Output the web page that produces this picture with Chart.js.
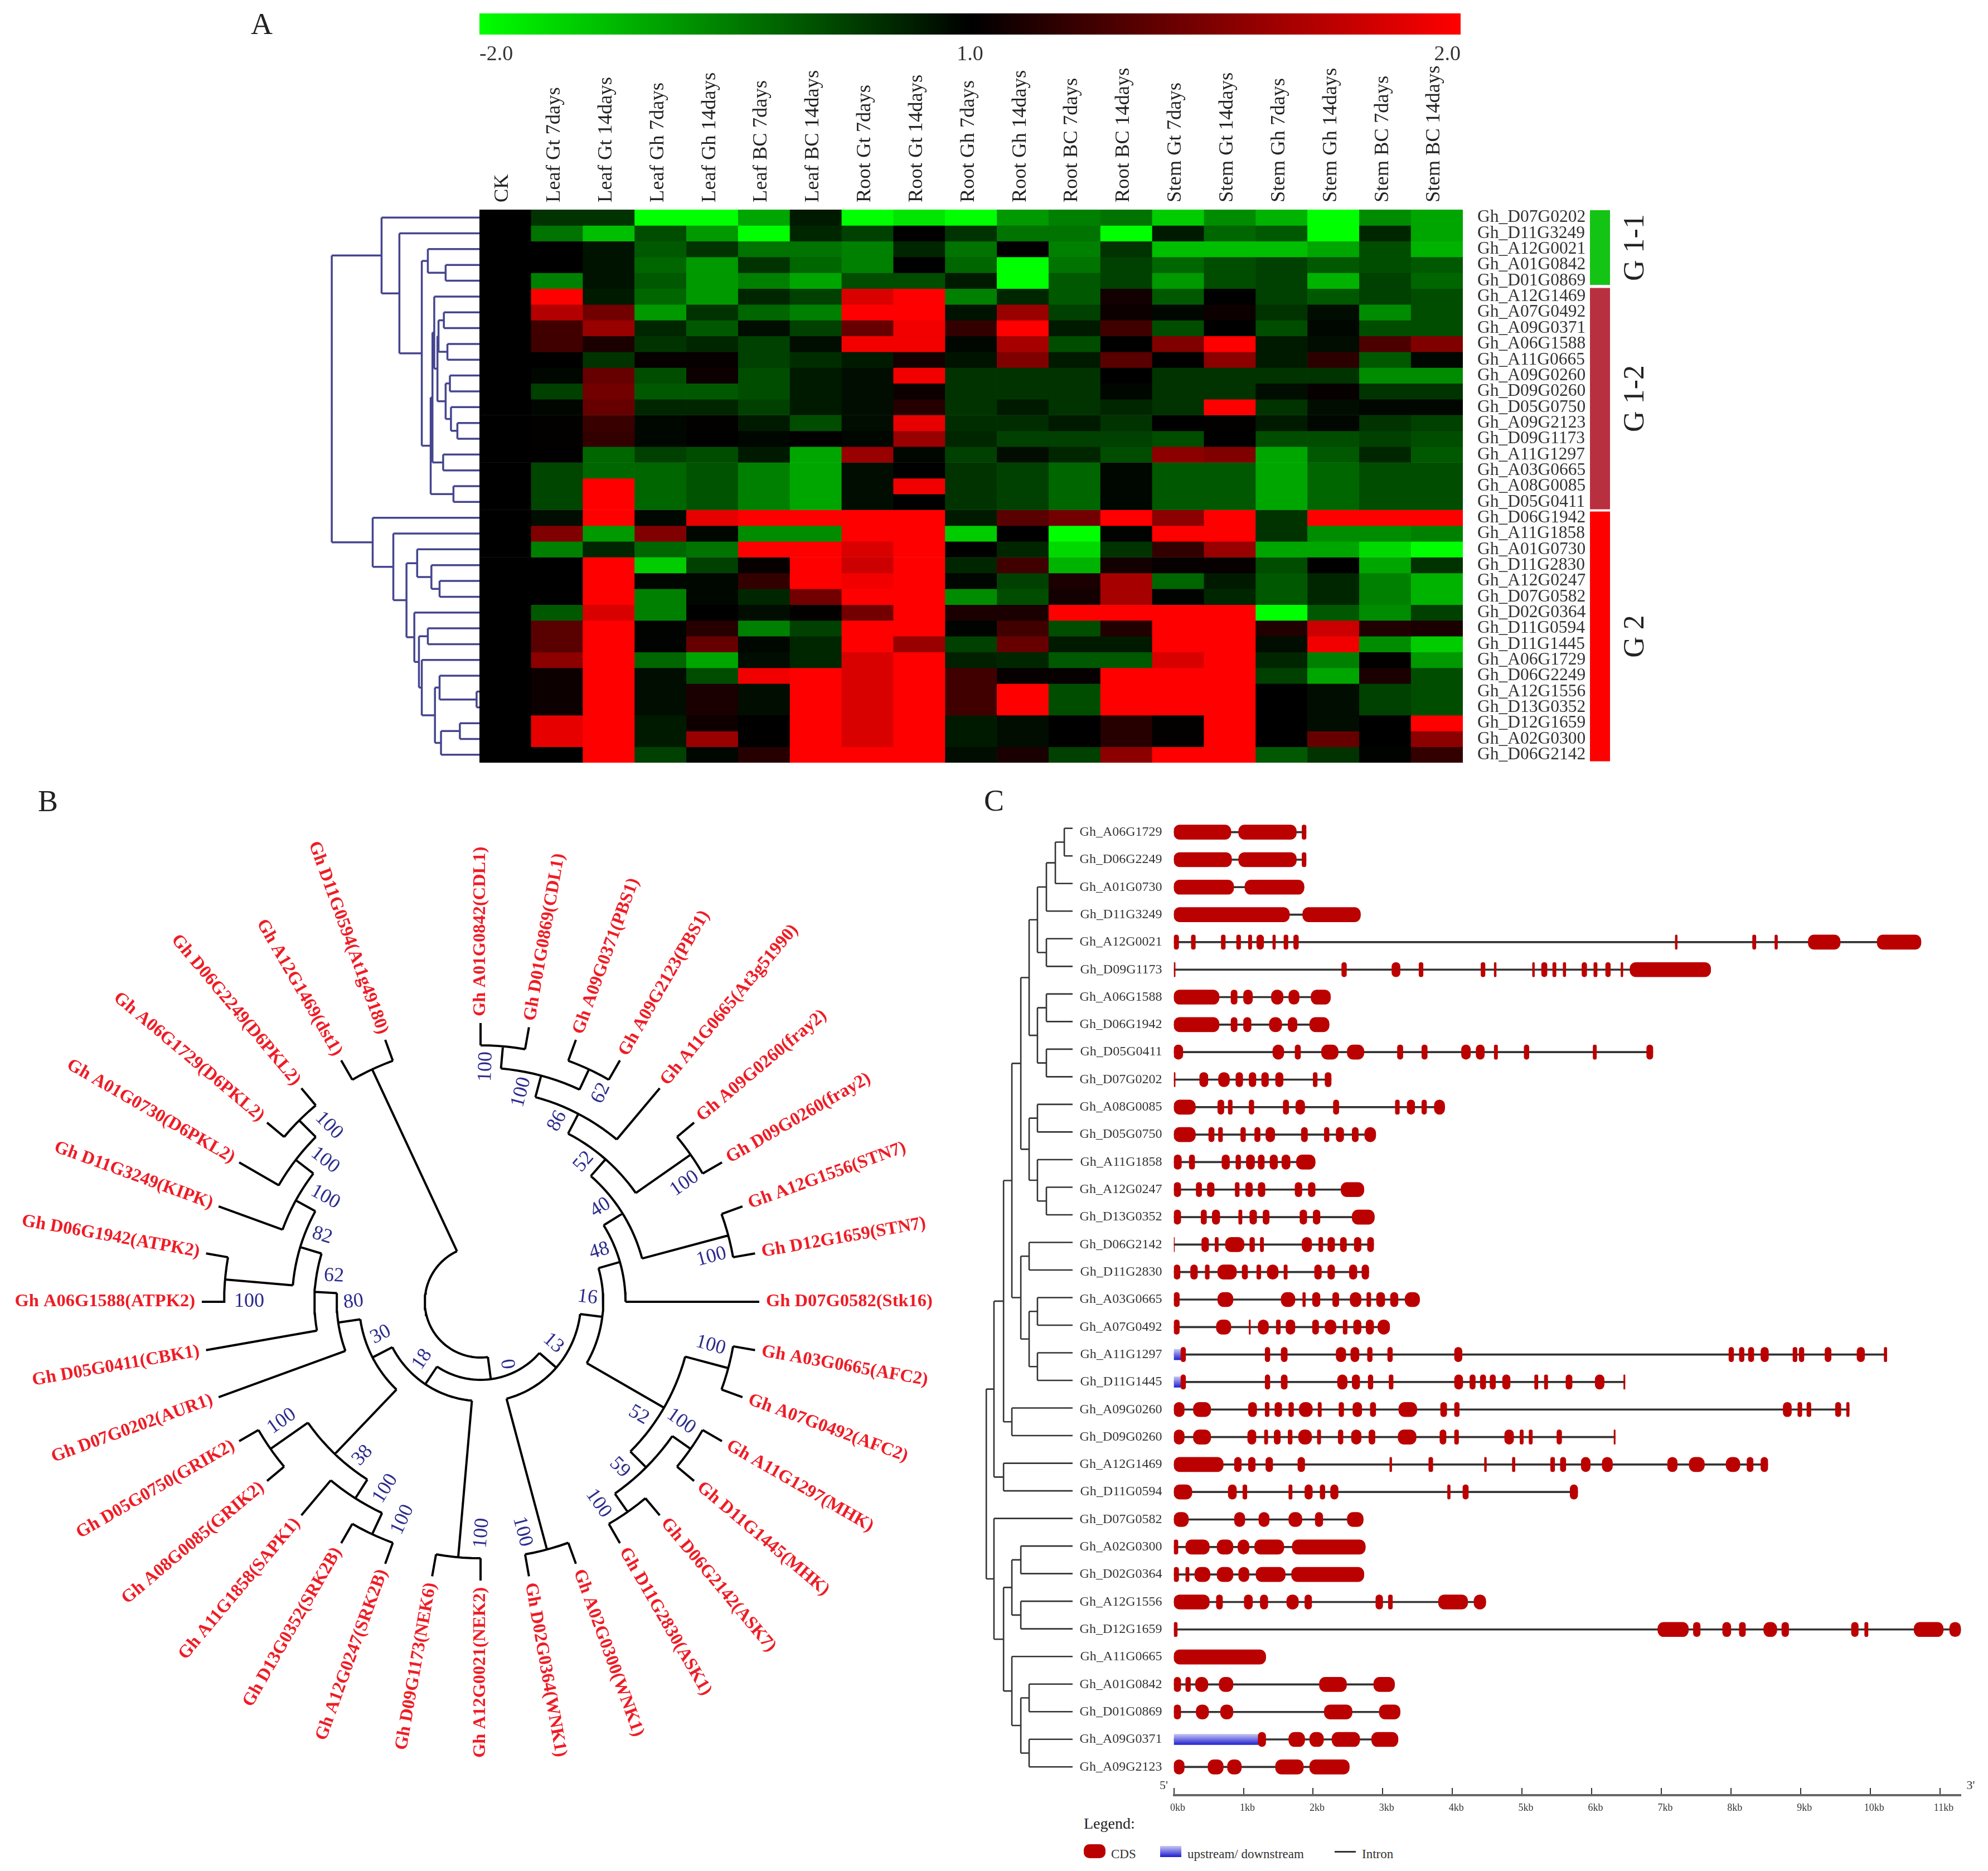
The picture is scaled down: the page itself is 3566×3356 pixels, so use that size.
<!DOCTYPE html>
<html>
<head>
<meta charset="utf-8">
<title>Gene family heatmap, tree and structure</title>
<script src="https://cdn.jsdelivr.net/npm/chart.js@4"></script>
<style>
  html, body { margin: 0; background: #fff; }
  #page { position: relative; width: 3566px; height: 3356px; overflow: hidden; font-family: "Liberation Serif", serif; color: #222; }
  #page canvas { position: absolute; }
  .txt { position: absolute; line-height: 1; white-space: nowrap; }
  .letter { font-size: 54px; }
  .leg { font-size: 23px; color: #333; }
  .swatch { position: absolute; }
</style>
</head>
<body>
<div id="page">
  <div class="txt letter" style="left:450px;top:16px">A</div>
  <div class="txt letter" style="left:68px;top:1410px">B</div>
  <div class="txt letter" style="left:1765px;top:1409px">C</div>

  <div class="txt" style="left:1944px;top:3257px;font-size:28px">Legend:</div>
  <div class="swatch" style="left:1944px;top:3308px;width:39px;height:25px;background:#bb0000;border-radius:10px"></div>
  <div class="txt leg" style="left:1993px;top:3314px">CDS</div>
  <div class="swatch" style="left:2081px;top:3311px;width:38px;height:20px;background:linear-gradient(#c8c8f4,#1c1cd0)"></div>
  <div class="txt leg" style="left:2130px;top:3314px">upstream/ downstream</div>
  <div class="swatch" style="left:2394px;top:3320px;width:38px;height:3px;background:#333"></div>
  <div class="txt leg" style="left:2443px;top:3314px">Intron</div>
</div>

<script>
// ---- Panel A data ----
const sampleLabels = ['CK','Leaf Gt 7days','Leaf Gt 14days','Leaf Gh 7days','Leaf Gh 14days','Leaf BC 7days','Leaf BC 14days',
  'Root Gt 7days','Root Gt 14days','Root Gh 7days','Root Gh 14days','Root BC 7days','Root BC 14days',
  'Stem Gt 7days','Stem Gt 14days','Stem Gh 7days','Stem Gh 14days','Stem BC 7days','Stem BC 14days'];
const heatGenes = ['Gh_D07G0202','Gh_D11G3249','Gh_A12G0021','Gh_A01G0842','Gh_D01G0869','Gh_A12G1469','Gh_A07G0492','Gh_A09G0371',
  'Gh_A06G1588','Gh_A11G0665','Gh_A09G0260','Gh_D09G0260','Gh_D05G0750','Gh_A09G2123','Gh_D09G1173','Gh_A11G1297','Gh_A03G0665',
  'Gh_A08G0085','Gh_D05G0411','Gh_D06G1942','Gh_A11G1858','Gh_A01G0730','Gh_D11G2830','Gh_A12G0247','Gh_D07G0582','Gh_D02G0364',
  'Gh_D11G0594','Gh_D11G1445','Gh_A06G1729','Gh_D06G2249','Gh_A12G1556','Gh_D13G0352','Gh_D12G1659','Gh_A02G0300','Gh_D06G2142'];
const heatValues = [
  [0,-.4,-.4,-2,-2,-1.3,-.2,-2,-1.8,-2,-1.2,-1,-.9,-1.6,-1.1,-1.4,-2,-1.1,-1.3],
  [0,-.9,-1.5,-.6,-1.2,-2,-.3,-.5,0,-.4,-.9,-.9,-2,-.2,-.8,-.7,-2,-.3,-1.3],
  [0,0,-.15,-.7,-.4,-.9,-.9,-1,-.3,-.9,0,-1,-.4,-1.5,-1.5,-1.5,-1.3,-.6,-1.4],
  [0,0,-.15,-.8,-1.2,-.4,-.8,-1,0,-.8,-2,-.9,-.5,-.8,-.6,-.5,-.7,-.6,-.7],
  [0,-1,-.15,-.7,-1.2,-1,-1.3,-.6,-.6,-.2,-2,-.7,-.5,-1.2,-.6,-.5,-1.4,-.5,-.8],
  [0,2,-.2,-.8,-1.2,-.3,-.5,1.7,2,-1,-.3,-.7,.15,-.7,0,-.5,-.7,-.5,-.6],
  [0,1.4,.9,-1.2,-.4,-.8,-1,2,2,-.15,1.2,-.5,.1,-.05,.1,-.4,-.1,-1.1,-.6],
  [0,.5,1.2,-.3,-.7,-.1,-.5,.8,1.9,.4,2,-.2,.5,-.6,0,-.6,-.05,-.6,-.6],
  [0,.5,.2,-.4,-.3,-.5,-.1,1.9,1.9,-.05,1.3,-.6,0,1,2,-.2,-.1,.6,1],
  [0,0,-.4,.05,.05,-.5,-.35,-.2,.15,-.15,1,-.2,.7,0,1.1,-.2,.35,-.7,-.05],
  [0,-.05,.8,-.6,.1,-.6,-.2,-.1,1.9,-.4,-.4,-.4,0,-.4,-.4,-.4,-.4,-1.1,-1.1],
  [0,-.5,.9,-.7,-.7,-.6,-.2,-.1,.1,-.4,-.4,-.4,-.05,-.4,-.4,-.1,.05,-.4,-.4],
  [0,-.05,.8,-.3,-.3,-.5,-.2,-.1,.3,-.4,-.2,-.4,-.3,-.4,2,-.4,-.1,-.05,-.05],
  [0,.02,.45,-.05,.02,-.2,-.6,-.1,1.8,-.35,-.35,-.2,-.4,0,.02,-.2,-.05,-.4,-.5],
  [0,.02,.4,-.05,0,-.05,.02,-.05,1.2,-.3,-.5,-.5,-.5,-.6,0,-.6,-.6,-.5,-.6],
  [0,0,-.8,-.5,-.6,-.2,-1.3,1.2,-.05,-.5,-.1,-.3,-.6,1.1,1,-1.3,-.7,-.3,-.7],
  [0,-.55,-.8,-.8,-.65,-1,-1.3,-.1,0,-.4,-.5,-.8,-.05,-.7,-.7,-1.3,-.8,-.6,-.6],
  [0,-.55,2,-.8,-.65,-1,-1.3,-.1,1.9,-.4,-.5,-.8,-.05,-.7,-.7,-1.3,-.8,-.6,-.6],
  [0,-.55,2,-.8,-.65,-1,-1.3,-.1,0,-.4,-.5,-.8,-.05,-.7,-.7,-1.3,-.8,-.6,-.6],
  [0,-.1,2,-.05,1.8,2,2,2,2,-.2,.7,.9,2,1.1,2,-.4,2,2,2],
  [0,1,-1.2,1,-.05,-1.1,-1.1,2,2,-1.6,0,-2,-.02,2,2,-.4,-1.1,-1.1,-1],
  [0,-1,-.3,-.8,-.9,2,2,1.7,2,0,-.3,-1.7,-.4,.4,1.2,-1.3,-1.3,-1.7,-2],
  [0,0,2,-1.6,-.5,.05,2,1.6,2,-.3,.5,-1.4,.15,.05,.05,-.6,0,-1.3,-.4],
  [0,0,2,-.05,-.05,.4,2,1.9,2,-.05,-.5,.2,1.3,-.8,-.2,-.7,-.3,-1,-1.4],
  [0,0,2,-1,-.05,-.3,.9,2,2,-1.1,-.6,.15,1.3,-.02,-.3,-.7,-.3,-1,-1.4],
  [0,-.7,1.7,-1,0,-.1,.02,.9,2,.2,.2,2,2,2,2,-2,-.7,-1.1,-.5],
  [0,.7,2,-.02,.3,-1,-.5,2,2,-.03,.5,-.6,.25,2,2,.25,1.6,.25,.2],
  [0,.7,2,-.02,.8,-.05,-.3,2,1.2,-.5,.8,-.2,-.2,2,2,-.1,1.9,-1.1,-1.6],
  [0,1.1,2,-.8,-1.3,-.1,-.3,1.7,2,-.25,-.3,-.7,-.7,1.7,2,-.3,-1,.02,-1.2],
  [0,.1,2,-.1,-.6,1.9,2,1.7,2,.5,.05,.05,2,2,2,-.5,-1.3,.2,-.6],
  [0,.1,2,-.1,.2,-.1,2,1.7,2,.5,2,-.6,2,2,2,0,-.1,-.5,-.6],
  [0,.1,2,-.1,.2,-.1,2,1.7,2,.5,2,-.6,2,2,2,0,-.1,-.5,-.6],
  [0,1.8,2,-.2,.1,0,2,1.7,2,-.2,-.1,0,.3,.02,2,0,-.1,0,2],
  [0,1.8,2,-.2,1.2,0,2,1.7,2,-.2,-.1,0,.3,.02,2,0,.8,0,1.1],
  [0,0,2,-.5,-.05,.3,2,2,2,-.1,.2,-.5,1.1,2,2,-.7,-.4,-.02,.4]
];
const colorbarRange = [-2, 2];
const colorbarLabels = ['-2.0', '1.0', '2.0'];
const groupNames = ['G 1-1', 'G 1-2', 'G 2'];
const groupRows = [[0.05, 4.75], [4.97, 18.95], [19.12, 34.9]];
const groupColors = ['#14c414', '#b83040', '#ff0000'];
// dendrogram: [height, childA, childB], a plain number is a heatmap row
const heatTree = [415,
  [275, 0, [225, 1, [162, [145, 2, [95, 3, 4]],
    [137, [132, [127, 5, [118, [115, [100, 6, 7], [90, 8, 9]], [95, [83, 10, 11], [80, 12, [62, 13, 14]]]]], [102, 15, 16]], [73, 17, 18]]]]],
  [300, 19, [242, 20, [205,
    [175, 21, [135, 22, [112, 23, 24]]],
    [183, 25, [170, [145, 26, 27], [162, 28, [125, [112, 29, [8, 30, 31]], [108, [55, 32, 33], 34]]]]]]]]
];

// ---- Panel B data ----
const leafNames = ['Gh A01G0842(CDL1)','Gh D01G0869(CDL1)','Gh A09G0371(PBS1)','Gh A09G2123(PBS1)','Gh A11G0665(At3g51990)','Gh A09G0260(fray2)',
  'Gh D09G0260(fray2)','Gh A12G1556(STN7)','Gh D12G1659(STN7)','Gh D07G0582(Stk16)','Gh A03G0665(AFC2)','Gh A07G0492(AFC2)','Gh A11G1297(MHK)',
  'Gh D11G1445(MHK)','Gh D06G2142(ASK7)','Gh D11G2830(ASK1)','Gh A02G0300(WNK1)','Gh D02G0364(WNK1)','Gh A12G0021(NEK2)','Gh D09G1173(NEK6)',
  'Gh A12G0247(SRK2B)','Gh D13G0352(SRK2B)','Gh A11G1858(SAPK1)','Gh A08G0085(GRIK2)','Gh D05G0750(GRIK2)','Gh D07G0202(AUR1)','Gh D05G0411(CBK1)',
  'Gh A06G1588(ATPK2)','Gh D06G1942(ATPK2)','Gh D11G3249(KIPK)','Gh A01G0730(D6PKL2)','Gh A06G1729(D6PKL2)','Gh D06G2249(D6PKL2)','Gh A12G1469(dst1)','Gh D11G0594(At1g49180)'];
const leafStepDeg = 10;
const leafRadius = 500;
const leafTextRadius = 512;
// circular tree: [radius, childA, childB], a plain number is an index in leafNames
const circleTree = [100,
  [140,
    [180,
      [220,
        [260, [300, [340, [380, [420, [460, 0, 1], [460, 2, 3]], 4], [460, 5, 6]], [460, 7, 8]], 9],
        [380, [460, 10, 11], [420, [460, 12, 13], [460, 14, 15]]]],
      [460, 16, 17]],
    [178,
      [460, 18, 19],
      [218,
        [378, [418, [460, 20, 21], 22], [460, 23, 24]],
        [258, 25, [298, 26, [338, [460, 27, 28], [378, 29, [418, 30, [460, 31, 32]]]]]]]]],
  [460, 33, 34]
];
const supportValues = ['100','100','62','86','52','100','40','48','100','16','13','0','100','52','100','59','100','100','100','100','100','38','100','18','30','80','62','100','82','100','100','100'];
const supportTheta = [1.3,11,30,23,36.4,59.9,51.8,66.8,79,87.6,119.6,157,100.7,125.6,120.8,140,149.7,169.7,179.7,199.7,207,217.5,239,225.3,251.8,270,280,270,292.7,304,312.3,319.3];
const supportRadius = [422,383,432,352,312,423,273.5,232,422,192,150,121.5,420,349,419,388,419,419,415,415,376,347.5,416,147,188.5,228,267,415,308,336,377,417];
const supportTurn = [-88,-75,-65,-62,-49,-35,-32,-16,-15,7,41,82,15,30,35,45,55,75,-85,-65,-58,-47,-35,-56,-27,-7,3,0,17,29,38,45];

// ---- Panel C data ----
const structGenes = ['Gh_A06G1729','Gh_D06G2249','Gh_A01G0730','Gh_D11G3249','Gh_A12G0021','Gh_D09G1173','Gh_A06G1588','Gh_D06G1942','Gh_D05G0411','Gh_D07G0202',
  'Gh_A08G0085','Gh_D05G0750','Gh_A11G1858','Gh_A12G0247','Gh_D13G0352','Gh_D06G2142','Gh_D11G2830','Gh_A03G0665','Gh_A07G0492','Gh_A11G1297','Gh_D11G1445',
  'Gh_A09G0260','Gh_D09G0260','Gh_A12G1469','Gh_D11G0594','Gh_D07G0582','Gh_A02G0300','Gh_D02G0364','Gh_A12G1556','Gh_D12G1659','Gh_A11G0665',
  'Gh_A01G0842','Gh_D01G0869','Gh_A09G0371','Gh_A09G2123'];
// CDS start, end pairs in kb
const geneExons = [
  [0,.82,.93,1.76,1.84,1.9],
  [0,.83,.93,1.76,1.84,1.9],
  [0,.86,1.02,1.87],
  [0,1.66,1.85,2.68],
  [0,.07,.25,.31,.68,.74,.9,.96,1.07,1.12,1.19,1.29,1.42,1.46,1.58,1.64,1.72,1.79,7.2,7.23,8.31,8.36,8.63,8.67,9.11,9.57,10.1,10.73],
  [0,.02,2.41,2.48,3.13,3.25,3.52,3.58,4.41,4.47,4.6,4.63,5.15,5.18,5.28,5.36,5.44,5.49,5.59,5.63,5.86,5.93,6.03,6.08,6.2,6.27,6.42,6.45,6.55,7.71],
  [0,.65,.82,.91,1,1.13,1.4,1.57,1.65,1.8,1.97,2.25],
  [0,.65,.82,.91,1,1.11,1.37,1.55,1.64,1.77,1.95,2.23],
  [0,.13,1.42,1.58,1.74,1.82,2.12,2.36,2.49,2.73,3.21,3.29,3.56,3.64,4.13,4.26,4.34,4.46,4.6,4.65,5.03,5.1,6.02,6.07,6.79,6.88],
  [0,.02,.37,.49,.64,.8,.89,.99,1.08,1.18,1.26,1.36,1.46,1.57,2,2.06,2.17,2.26],
  [0,.31,.63,.72,.78,.84,1.08,1.15,1.57,1.65,1.75,1.88,2.29,2.37,3.18,3.24,3.35,3.46,3.56,3.63,3.74,3.89],
  [0,.31,.5,.58,.64,.7,.96,1.03,1.16,1.24,1.32,1.45,1.83,1.92,2.16,2.23,2.33,2.44,2.56,2.65,2.74,2.9],
  [0,.11,.22,.3,.69,.8,.89,.96,1.04,1.16,1.21,1.3,1.38,1.49,1.55,1.67,1.76,2.03],
  [0,.1,.32,.4,.48,.58,.88,.94,1.03,1.13,1.21,1.31,1.74,1.84,1.93,2.03,2.4,2.73],
  [0,.1,.39,.47,.55,.66,.93,.98,1.09,1.19,1.28,1.37,1.81,1.91,2,2.1,2.56,2.88],
  [0,.01,.4,.5,.59,.64,.74,1.01,1.09,1.16,1.24,1.29,1.84,1.98,2.08,2.14,2.21,2.31,2.39,2.48,2.59,2.69,2.78,2.87],
  [0,.09,.24,.34,.45,.51,.63,.9,.98,1.06,1.19,1.25,1.34,1.5,1.58,1.63,2.02,2.12,2.21,2.31,2.52,2.63,2.7,2.8],
  [0,.08,.63,.85,1.54,1.74,1.85,1.89,1.99,2.1,2.28,2.37,2.53,2.69,2.77,2.83,2.91,3.03,3.11,3.22,3.32,3.53],
  [0,.08,.61,.82,1.08,1.1,1.21,1.36,1.47,1.53,1.61,1.74,1.99,2.08,2.17,2.33,2.43,2.49,2.58,2.69,2.76,2.87,2.93,3.1],
  [.1,.17,1.31,1.38,1.54,1.63,2.33,2.47,2.54,2.66,2.78,2.85,3.07,3.14,4.03,4.14,7.97,8.04,8.12,8.19,8.25,8.33,8.43,8.54,8.89,8.95,8.98,9.05,9.35,9.44,9.81,9.92,10.2,10.24],
  [.1,.17,1.31,1.38,1.54,1.63,2.35,2.49,2.56,2.67,2.79,2.86,3.09,3.15,4.03,4.15,4.25,4.33,4.4,4.48,4.54,4.62,4.72,4.83,5.18,5.23,5.32,5.37,5.63,5.72,6.05,6.18,6.46,6.48],
  [0,.15,.28,.53,1.07,1.19,1.31,1.37,1.45,1.55,1.65,1.72,1.8,1.99,2.07,2.12,2.37,2.44,2.57,2.7,2.82,2.9,3.23,3.49,3.83,3.92,4.03,4.1,8.75,8.87,8.96,9.02,9.09,9.15,9.5,9.58,9.66,9.7],
  [0,.15,.28,.53,1.06,1.18,1.3,1.35,1.44,1.53,1.64,1.7,1.79,1.98,2.06,2.11,2.36,2.43,2.55,2.69,2.8,2.89,3.22,3.48,3.82,3.91,4.03,4.09,4.75,4.88,4.97,5.02,5.1,5.15,5.5,5.57,6.32,6.34],
  [0,.71,.87,.97,1.07,1.17,1.32,1.42,1.78,1.88,3.1,3.13,3.66,3.72,4.46,4.49,4.86,4.9,5.41,5.47,5.55,5.63,5.85,5.98,6.15,6.3,7.09,7.23,7.4,7.62,7.93,8.13,8.23,8.32,8.43,8.53],
  [0,.26,.78,.9,.99,1.05,1.65,1.7,1.88,1.99,2.1,2.17,2.25,2.36,3.93,3.97,4.15,4.23,5.69,5.8],
  [0,.21,.87,1.02,1.22,1.37,1.65,1.84,2.03,2.14,2.49,2.72],
  [0,.06,.17,.51,.62,.85,.92,1.08,1.16,1.58,1.7,2.75],
  [0,.07,.17,.22,.3,.52,.62,.85,.93,1.08,1.18,1.6,1.69,2.73],
  [0,.51,.61,.7,1.01,1.13,1.24,1.35,1.62,1.79,1.88,1.98,2.9,3,3.08,3.14,3.8,4.22,4.31,4.48],
  [0,.05,6.95,7.39,7.46,7.56,7.88,8,8.12,8.21,8.47,8.66,8.73,8.83,9.73,9.83,9.92,9.97,10.63,11.05,11.14,11.3],
  [0,1.32],
  [0,.1,.17,.24,.31,.49,.65,.85,2.09,2.48,2.87,3.17],
  [0,.1,.32,.5,.67,.85,2.16,2.56,2.95,3.25],
  [1.21,1.32,1.65,1.88,1.95,2.15,2.27,2.67,2.84,3.22],
  [0,.15,.49,.71,.77,.97,1.46,1.86,1.95,2.52]
];
const upstreamEnd = structGenes.map(g => ({Gh_A11G1297:.1, Gh_D11G1445:.1, Gh_A09G0371:1.21})[g] || null);
const kbMax = 11.3;
const structTree = [135,
  [123,
    [108,
      [95,
        [81,
          [68, [55, [41, [27, [13, 0, 1], 2], 3], [41, 4, 5]], [55, [41, 6, 7], [41, 8, 9]]],
          [68, [55, 10, 11], [55, 12, [41, 13, 14]]]],
        [81, [68, 15, 16], [68, [55, 17, 18], [55, 19, 20]]]],
      [95, 21, 22]],
    [108, 23, 24]],
  [123, 25,
    [108,
      [95, [81, 26, 27], [81, 28, 29]],
      [95, 30, [81, [68, 31, 32], [68, 33, 34]]]]]
];

// ---- helpers ----
Chart.defaults.font.family = '"Liberation Serif", serif';
Chart.defaults.animation = false;
Chart.defaults.responsive = false;
Chart.defaults.devicePixelRatio = 1;
Chart.defaults.plugins.legend.display = false;
Chart.defaults.plugins.tooltip.enabled = false;
Chart.defaults.layout.padding = 0;

function place(left, top, width, height) {
  const c = document.createElement('canvas');
  c.width = width; c.height = height;
  c.style.left = left + 'px'; c.style.top = top + 'px';
  document.getElementById('page').appendChild(c);
  return c;
}

// keep an axis at a given size so the plot area lands where it should
const fixAxis = size => s => {
  if (s.isHorizontal()) s.height = size; else s.width = size;
  s.paddingLeft = s.paddingRight = s.paddingTop = s.paddingBottom = 0;
};

function heatColor(v) {
  const k = Math.round(Math.min(Math.abs(v) / 2, 1) * 255);
  return v < 0 ? `rgb(0,${k},0)` : `rgb(${k},0,0)`;
}

function hiddenAxis(opts) { return Object.assign({display: false, grid: {display: false}}, opts); }

// rectangular dendrogram -> points, with gaps between the strokes
function dendroPoints(tree) {
  const pts = [];
  const stroke = (a, b) => pts.push(a, b, {x: NaN, y: NaN});
  (function walk(n) {
    if (typeof n === 'number') return {h: 0, y: n + 0.5};
    const a = walk(n[1]), b = walk(n[2]);
    stroke({x: n[0], y: a.y}, {x: n[0], y: b.y});
    stroke({x: n[0], y: a.y}, {x: a.h, y: a.y});
    stroke({x: n[0], y: b.y}, {x: b.h, y: b.y});
    return {h: n[0], y: (a.y + b.y) / 2};
  })(tree);
  return pts;
}

function dendroChart(canvas, tree, xMax, color, width) {
  return new Chart(canvas, {
    type: 'scatter',
    data: {datasets: [{data: dendroPoints(tree), showLine: true, borderColor: color, borderWidth: width, pointRadius: 0, clip: false}]},
    options: {scales: {
      x: hiddenAxis({type: 'linear', min: 0, max: xMax, reverse: true}),
      y: hiddenAxis({type: 'linear', min: 0, max: heatGenes.length, reverse: true})
    }}
  });
}

// ---- Panel A ----
new Chart(place(860, 24, 1760, 90), {
  type: 'bar',
  data: {labels: ['scale'], datasets: [{
    data: [colorbarRange],
    backgroundColor: c => {
      const a = c.chart.chartArea;
      if (!a) return '#000';
      const g = c.chart.ctx.createLinearGradient(a.left, 0, a.right, 0);
      [-2, -1.5, -1, -.5, 0, .5, 1, 1.5, 2].forEach((v, i) => g.addColorStop(i / 8, heatColor(v)));
      return g;
    }
  }]},
  options: {
    indexAxis: 'y',
    categoryPercentage: 1, barPercentage: 1,
    scales: {
      y: hiddenAxis({}),
      x: {min: colorbarRange[0], max: colorbarRange[1], grid: {display: false}, border: {display: false},
        afterFit: fixAxis(52),
        ticks: {stepSize: 2, align: 'inner', padding: 5, color: '#333', font: {size: 38},
          callback: (v, i) => colorbarLabels[i]}}
    }
  }
});

new Chart(place(860, 0, 2094, 1368), {
  type: 'bar',
  data: {
    labels: sampleLabels,
    datasets: heatValues.map((row, r) => ({
      data: row.map(() => [r, r + 1]),
      backgroundColor: row.map(heatColor),
      borderWidth: 0,
      grouped: false
    }))
  },
  options: {
    categoryPercentage: 1, barPercentage: 1,
    scales: {
      x: {position: 'top', grid: {display: false, drawTicks: false}, border: {display: false}, afterFit: fixAxis(376),
        ticks: {maxRotation: 90, minRotation: 90, autoSkip: false, padding: 13, labelOffset: 39, color: '#222', font: {size: 36.5}}},
      y: hiddenAxis({type: 'linear', min: 0, max: heatGenes.length, reverse: true}),
      names: {type: 'category', labels: heatGenes, position: 'right', offset: true, grid: {display: false, drawTicks: false},
        border: {display: false}, afterFit: fixAxis(330),
        ticks: {autoSkip: false, padding: 26, color: '#333', font: {size: 31.5}}}
    }
  }
});

dendroChart(place(560, 376, 300, 992), heatTree, 470, '#45458f', 3.5);

new Chart(place(2852, 376, 146, 992), {
  type: 'bar',
  data: {labels: ['group'], datasets: groupRows.map((rows, i) => ({data: [rows], backgroundColor: groupColors[i], grouped: false}))},
  options: {
    categoryPercentage: 1, barPercentage: 1,
    layout: {padding: {right: 110}},
    scales: {
      x: hiddenAxis({}),
      y: hiddenAxis({type: 'linear', min: 0, max: heatGenes.length, reverse: true})
    }
  },
  plugins: [{
    id: 'groupNames',
    afterDatasetsDraw(chart) {
      const {ctx, chartArea, scales} = chart;
      ctx.save();
      ctx.fillStyle = '#222';
      ctx.font = '52px "Liberation Serif"';
      ctx.textAlign = 'center';
      ctx.textBaseline = 'middle';
      groupNames.forEach((name, i) => {
        ctx.save();
        ctx.translate(chartArea.right + 46, scales.y.getPixelForValue((groupRows[i][0] + groupRows[i][1]) / 2));
        ctx.rotate(-Math.PI / 2);
        ctx.fillText(name, 0, 0);
        ctx.restore();
      });
      ctx.restore();
    }
  }]
});

// ---- Panel B ----
const polar = (deg, r) => ({x: r * Math.sin(deg * Math.PI / 180), y: r * Math.cos(deg * Math.PI / 180)});

function circlePoints(tree) {
  const pts = [];
  (function walk(n) {
    if (typeof n === 'number') return {r: leafRadius, a: n * leafStepDeg};
    const p = walk(n[1]), q = walk(n[2]);
    for (let d = p.a; d < q.a; d += 2) pts.push(polar(d, n[0]));
    pts.push(polar(q.a, n[0]), {x: NaN, y: NaN});
    [p, q].forEach(c => pts.push(polar(c.a, n[0]), polar(c.a, c.r), {x: NaN, y: NaN}));
    return {r: n[0], a: (p.a + q.a) / 2};
  })(tree);
  return pts;
}

new Chart(place(0, 1400, 1740, 1860), {
  type: 'scatter',
  data: {datasets: [{data: circlePoints(circleTree), showLine: true, borderColor: '#000', borderWidth: 4, pointRadius: 0, clip: false}]},
  options: {scales: {
    x: hiddenAxis({type: 'linear', min: -862, max: 878}),
    y: hiddenAxis({type: 'linear', min: -925, max: 935})
  }},
  plugins: [{
    id: 'treeText',
    afterDatasetsDraw(chart) {
      const {ctx, scales} = chart;
      const at = (deg, r) => { const p = polar(deg, r); return [scales.x.getPixelForValue(p.x), scales.y.getPixelForValue(p.y)]; };
      ctx.save();
      ctx.textBaseline = 'middle';
      ctx.fillStyle = '#ee1c25';
      ctx.font = 'bold 32.5px "Liberation Serif"';
      leafNames.forEach((name, i) => {
        const deg = i * leafStepDeg;
        const right = deg < 180;
        ctx.save();
        ctx.translate(...at(deg, leafTextRadius));
        ctx.rotate((right ? deg - 90 : deg + 90) * Math.PI / 180);
        ctx.textAlign = right ? 'left' : 'right';
        ctx.fillText(name, 0, 0);
        ctx.restore();
      });
      ctx.fillStyle = '#2b2b8c';
      ctx.font = '36px "Liberation Serif"';
      ctx.textAlign = 'center';
      supportValues.forEach((v, i) => {
        ctx.save();
        ctx.translate(...at(supportTheta[i], supportRadius[i]));
        ctx.rotate(supportTurn[i] * Math.PI / 180);
        ctx.fillText(v, 0, 0);
        ctx.restore();
      });
      ctx.restore();
    }
  }]
});

// ---- Panel C ----
const exonSlots = Math.max(...geneExons.map(e => e.length / 2));
const exonSets = [];
for (let k = 0; k < exonSlots; k++) {
  exonSets.push({
    data: geneExons.map(e => e.length > 2 * k ? [e[2 * k], e[2 * k + 1]] : null),
    backgroundColor: '#bb0000', borderRadius: 11, borderSkipped: false, barThickness: 26, grouped: false
  });
}

new Chart(place(1900, 1468, 1642, 1726), {
  type: 'bar',
  data: {
    labels: structGenes,
    datasets: [
      ...exonSets,
      {
        data: upstreamEnd.map(v => v ? [0, v] : null),
        barThickness: 19, grouped: false,
        backgroundColor: c => {
          const mid = c.chart.scales.y ? c.chart.scales.y.getPixelForValue(c.dataIndex) : NaN;
          if (!Number.isFinite(mid)) return '#2222cc';
          const g = c.chart.ctx.createLinearGradient(0, mid - 10, 0, mid + 10);
          g.addColorStop(0, '#c8c8f4');
          g.addColorStop(1, '#1c1cd0');
          return g;
        }
      },
      {data: geneExons.map(e => [0, e[e.length - 1]]), backgroundColor: '#333', barThickness: 3, grouped: false}
    ]
  },
  options: {
    indexAxis: 'y',
    scales: {
      x: hiddenAxis({type: 'linear', min: 0, max: 11.5}),
      y: {grid: {display: false, drawTicks: false}, border: {display: false}, afterFit: fixAxis(205.6),
        ticks: {autoSkip: false, padding: 21, color: '#333', font: {size: 24}}}
    }
  }
});

dendroChart(place(1760, 1461, 164, 1733), structTree, 143, '#333', 2.6);

new Chart(place(1900, 3180, 1642, 80), {
  type: 'scatter',
  data: {datasets: [{data: []}]},
  options: {
    layout: {padding: {left: 205.6, right: 25, top: 27}},
    scales: {
      y: hiddenAxis({}),
      x: {type: 'linear', min: 0, max: kbMax, afterFit: fixAxis(40),
        grid: {color: '#333', lineWidth: 2, drawTicks: false},
        border: {color: '#666', width: 4},
        ticks: {stepSize: 1, includeBounds: false, padding: 12, labelOffset: 7, color: '#333', font: {size: 18}, callback: v => v + 'kb'}}
    }
  },
  plugins: [{
    id: 'strandEnds',
    afterDraw(chart) {
      const {ctx, scales, chartArea} = chart;
      ctx.save();
      ctx.fillStyle = '#333';
      ctx.font = '22px "Liberation Serif"';
      ctx.textAlign = 'center';
      ctx.textBaseline = 'middle';
      ctx.fillText("5'", scales.x.getPixelForValue(0) - 18, chartArea.top - 4);
      ctx.fillText("3'", scales.x.getPixelForValue(kbMax) + 18, chartArea.top - 4);
      ctx.restore();
    }
  }]
});
</script>
</body>
</html>
